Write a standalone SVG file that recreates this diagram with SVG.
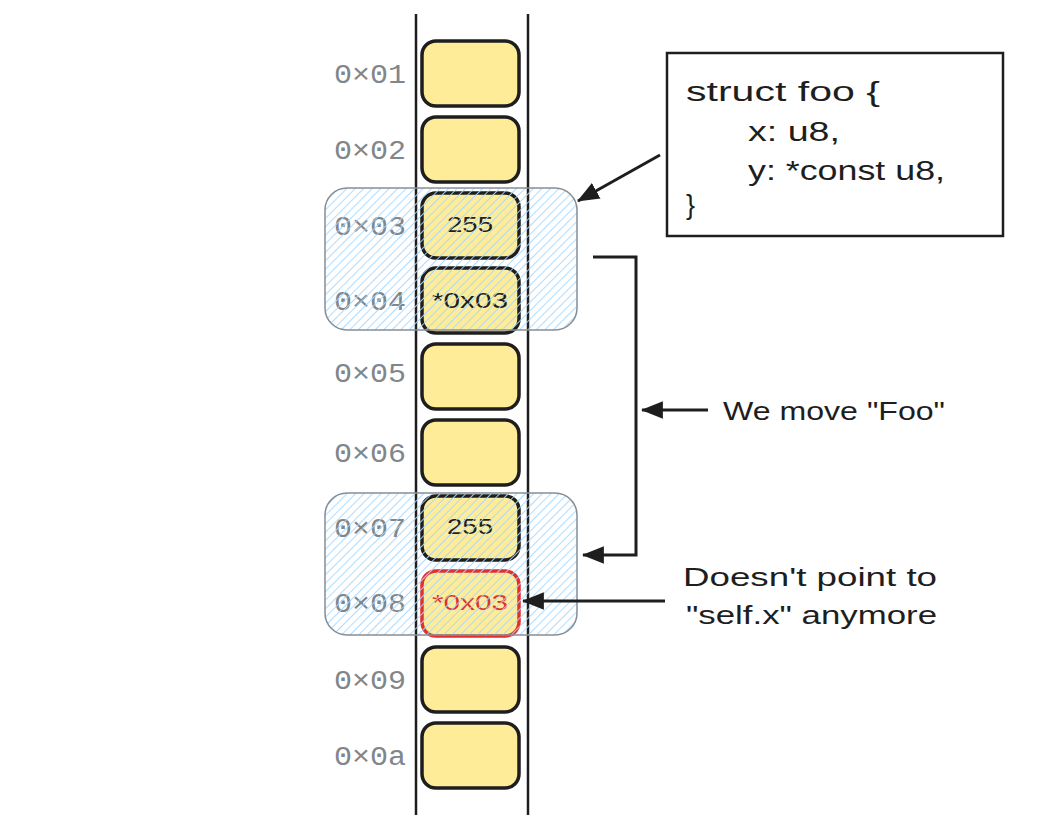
<svg xmlns="http://www.w3.org/2000/svg" width="1042" height="830" viewBox="0 0 1042 830">
<style>
.cell{fill:#ffec99;stroke:#1e1e1e;stroke-width:3.5}
.addr{font-family:"Liberation Mono",monospace;font-size:27px;fill:#7f868c;text-anchor:start}
.hand{font-family:"Liberation Sans",sans-serif;fill:#1e1e1e}
.val{font-family:"Liberation Sans",sans-serif;font-size:22px;fill:#1e1e1e}
.line{fill:none;stroke:#1e1e1e;stroke-width:3}
.grp{fill:url(#hatch);stroke:#868e96;stroke-width:1.5}
</style>
<defs>
<pattern id="hatch" patternUnits="userSpaceOnUse" width="6" height="6" patternTransform="rotate(45)">
<rect width="6" height="6" fill="none"/>
<line x1="0" y1="0" x2="0" y2="6" stroke="#a5d8ff" stroke-width="1.8"/>
</pattern>
<marker id="ah2" viewBox="0 0 20 16" refX="19" refY="8" markerWidth="22" markerHeight="18" markerUnits="userSpaceOnUse" orient="auto">
<path d="M0,0 L20,8 L0,16 Z" fill="#1e1e1e"/>
</marker>
</defs>
<rect width="1042" height="830" fill="#ffffff"/>
<g id="rails">
<line x1="416" y1="14" x2="416" y2="815" stroke="#1e1e1e" stroke-width="2.5"/>
<line x1="528" y1="14" x2="528" y2="815" stroke="#1e1e1e" stroke-width="2.5"/>
</g>
<g id="cell-01"><rect class="cell" x="422" y="41" width="97" height="65" rx="14"/><text class="addr" x="334" y="83" textLength="72" lengthAdjust="spacingAndGlyphs">0×01</text></g>
<g id="cell-02"><rect class="cell" x="422" y="117" width="97" height="65" rx="14"/><text class="addr" x="334" y="159" textLength="72" lengthAdjust="spacingAndGlyphs">0×02</text></g>
<g id="cell-03"><rect class="cell" x="422" y="193" width="97" height="65" rx="14"/><text class="addr" x="334" y="235" textLength="72" lengthAdjust="spacingAndGlyphs">0×03</text><text class="val" x="447" y="232" textLength="46" lengthAdjust="spacingAndGlyphs">255</text></g>
<g id="cell-04"><rect class="cell" x="422" y="268" width="97" height="65" rx="14"/><text class="addr" x="334" y="310" textLength="72" lengthAdjust="spacingAndGlyphs">0×04</text><text class="val" x="432" y="308" textLength="76" lengthAdjust="spacingAndGlyphs">*0x03</text></g>
<g id="cell-05"><rect class="cell" x="422" y="344" width="97" height="65" rx="14"/><text class="addr" x="334" y="382" textLength="72" lengthAdjust="spacingAndGlyphs">0×05</text></g>
<g id="cell-06"><rect class="cell" x="422" y="420" width="97" height="65" rx="14"/><text class="addr" x="334" y="462" textLength="72" lengthAdjust="spacingAndGlyphs">0×06</text></g>
<g id="cell-07"><rect class="cell" x="422" y="496" width="97" height="64" rx="14"/><text class="addr" x="334" y="537" textLength="72" lengthAdjust="spacingAndGlyphs">0×07</text><text class="val" x="447" y="534" textLength="46" lengthAdjust="spacingAndGlyphs">255</text></g>
<g id="cell-08"><rect class="cell" x="422" y="571" width="97" height="65" rx="14" style="stroke:#e03131"/><text class="addr" x="334" y="612" textLength="72" lengthAdjust="spacingAndGlyphs">0×08</text><text class="val" x="432" y="610" textLength="76" lengthAdjust="spacingAndGlyphs" style="fill:#e03131">*0x03</text></g>
<g id="cell-09"><rect class="cell" x="422" y="647" width="97" height="65" rx="14"/><text class="addr" x="334" y="689" textLength="72" lengthAdjust="spacingAndGlyphs">0×09</text></g>
<g id="cell-0a"><rect class="cell" x="422" y="723" width="97" height="65" rx="14"/><text class="addr" x="334" y="765" textLength="72" lengthAdjust="spacingAndGlyphs">0×0a</text></g>
<g id="group-foo-old"><rect class="grp" x="325" y="188" width="252" height="142" rx="22"/></g>
<g id="group-foo-new"><rect class="grp" x="325" y="493" width="252" height="142" rx="22"/></g>
<g id="struct-box">
<rect x="667" y="53" width="336" height="183" fill="#ffffff" stroke="#1e1e1e" stroke-width="2.5"/>
<text class="hand" font-size="27" x="686" y="101" textLength="194" lengthAdjust="spacingAndGlyphs">struct foo {</text>
<text class="hand" font-size="27" x="748" y="141" textLength="92" lengthAdjust="spacingAndGlyphs">x: u8,</text>
<text class="hand" font-size="27" x="748" y="180" textLength="197" lengthAdjust="spacingAndGlyphs">y: *const u8,</text>
<text class="hand" font-size="27" x="686" y="214">}</text>
</g>
<g id="label-move"><text class="hand" font-size="25" x="723" y="420" textLength="222" lengthAdjust="spacingAndGlyphs">We move "Foo"</text></g>
<g id="label-doesnt">
<text class="hand" font-size="25" x="683" y="586" textLength="254" lengthAdjust="spacingAndGlyphs">Doesn't point to</text>
<text class="hand" font-size="25" x="686" y="624" textLength="251" lengthAdjust="spacingAndGlyphs">"self.x" anymore</text>
</g>
<g id="connectors">
<path class="line" d="M660,155 L578,201" marker-end="url(#ah2)"/>
<path class="line" d="M593,257 L636,257 L636,555 L583,555" marker-end="url(#ah2)"/>
<path class="line" d="M708,410 L642,410" marker-end="url(#ah2)"/>
<path class="line" d="M665,601 L523,601" marker-end="url(#ah2)"/>
</g>
</svg>
